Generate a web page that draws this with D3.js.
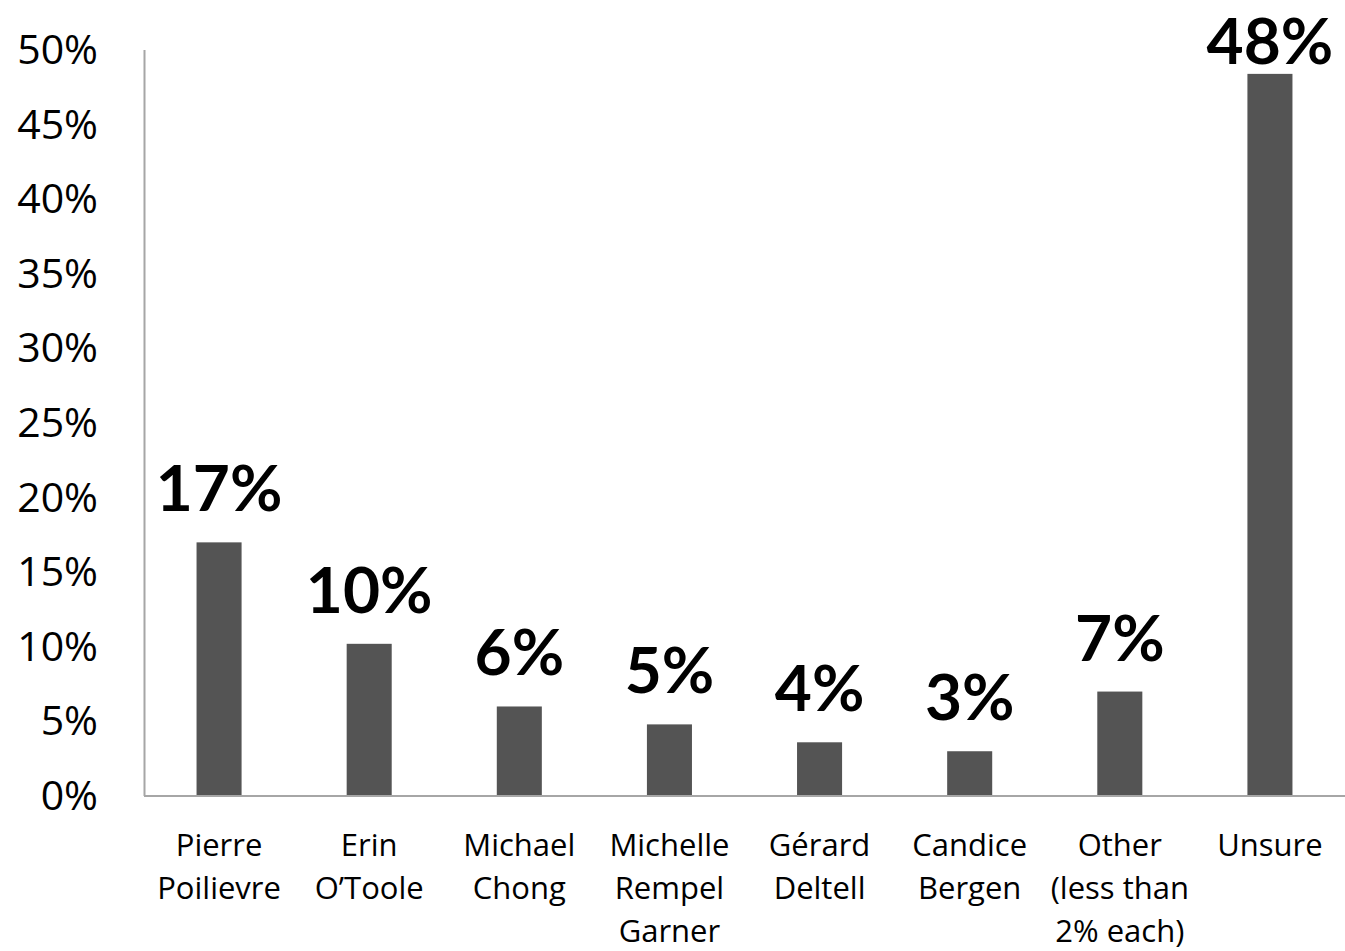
<!DOCTYPE html>
<html><head><meta charset="utf-8">
<script src="https://cdn.jsdelivr.net/npm/d3@7"></script>
<style>body{margin:0;background:#fff;} text{font-family:"Open Sans", sans-serif;} .val{font-family:Lato, sans-serif;}</style>
</head><body>
<svg id="c" width="1345" height="951"></svg>
<script>
const categories = [["Pierre","Poilievre"],["Erin","O’Toole"],["Michael","Chong"],["Michelle","Rempel","Garner"],["Gérard","Deltell"],["Candice","Bergen"],["Other","(less than","2% each)"],["Unsure"]];
const values = [17.0, 10.2, 6.0, 4.8, 3.6, 3.0, 7.0, 48.4];
const valueLabels = ["17%","10%","6%","5%","4%","3%","7%","48%"];
const yTicks = [0,5,10,15,20,25,30,35,40,45,50];

const svg = d3.select("#c");
const m = {l:144, r:1345, t:50, b:796};
const x = d3.scaleBand().domain(d3.range(values.length)).range([m.l, m.r]).paddingInner(0.7).paddingOuter(0.35);
const y = d3.scaleLinear().domain([0,50]).range([m.b, m.t]);

// y tick labels
svg.append("g").selectAll("text").data(yTicks).join("text")
  .attr("x", 98).attr("y", d => y(d) + 14).attr("text-anchor","end")
  .attr("font-size", 41).attr("fill","#000").text(d => d + "%");

// bars
svg.append("g").selectAll("rect").data(values).join("rect")
  .attr("x", (d,i) => x(i)).attr("width", x.bandwidth())
  .attr("y", d => y(d)).attr("height", d => m.b - y(d)).attr("fill", "#545454");

// axes lines
svg.append("line").attr("x1", m.l+0.5).attr("x2", m.l+0.5).attr("y1", m.t).attr("y2", m.b).attr("stroke","#a6a6a6").attr("stroke-width",2);
svg.append("line").attr("x1", m.l).attr("x2", m.r).attr("y1", m.b).attr("y2", m.b).attr("stroke","#a6a6a6").attr("stroke-width",2);

// value labels
svg.append("g").selectAll("text").data(values).join("text")
  .attr("class","val")
  .attr("x", (d,i) => x(i) + x.bandwidth()/2)
  .attr("y", d => Math.max(y(d) - 31, 64))
  .attr("text-anchor","middle").attr("font-weight","bold").attr("font-size", 64).attr("fill","#000")
  .text((d,i) => valueLabels[i]);

// category labels
const cg = svg.append("g").selectAll("text").data(categories).join("text")
  .attr("x", (d,i) => x(i) + x.bandwidth()/2).attr("y", 856)
  .attr("text-anchor","middle").attr("font-size", 31).attr("fill","#000");
cg.selectAll("tspan").data(d => d).join("tspan")
  .attr("x", function(){ return this.parentNode.getAttribute("x"); })
  .attr("dy", (d,j) => j === 0 ? 0 : 43).text(d => d);
</script>
</body></html>
